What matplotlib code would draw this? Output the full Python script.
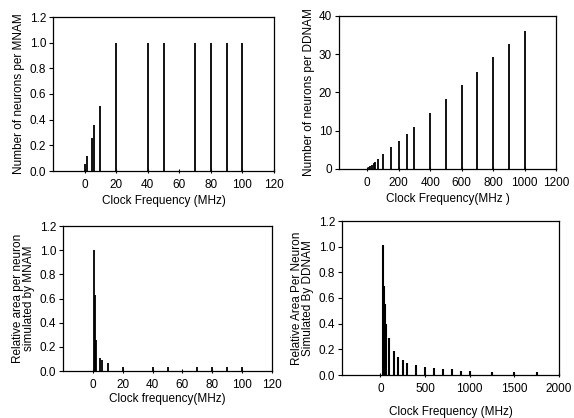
import matplotlib
matplotlib.use("Agg")
import matplotlib.pyplot as plt

plt.rcParams['font.family'] = ['Liberation Sans', 'DejaVu Sans']

# Top-left: neurons per MNAM
tl_freq = [0.5, 1.5, 4.5, 6.2, 10, 20, 40, 50, 70, 80, 90, 100]
tl_vals = [0.057, 0.115, 0.26, 0.36, 0.51, 1.0, 1.0, 1.0, 1.0, 1.0, 1.0, 1.0]

# Top-right: neurons per DDNAM
tr_freq = [10, 20, 30, 40, 50, 70, 100, 150, 200, 250, 300, 400, 500, 600, 700, 800, 900, 1000]
tr_vals = [0.4, 0.75, 1.1, 1.45, 1.8, 2.5, 4.0, 5.65, 7.4, 9.1, 11.0, 14.7, 18.2, 21.9, 25.4, 29.3, 32.8, 36.1]

# Bottom-left: relative area per neuron, MNAM
bl_freq = [0.5, 1.2, 1.9, 4.8, 6.3, 10.2, 20, 40, 50, 70, 80, 90, 100]
bl_vals = [1.0, 0.63, 0.26, 0.107, 0.088, 0.066, 0.035, 0.035, 0.035, 0.035, 0.035, 0.035, 0.035]

# Bottom-right: relative area per neuron, DDNAM
br_freq = [25, 40, 52, 66, 100, 150, 200, 250, 300, 400, 500, 600, 700, 800, 900, 1000, 1250, 1500, 1750]
br_vals = [1.01, 0.69, 0.553, 0.397, 0.285, 0.188, 0.141, 0.117, 0.097, 0.076, 0.065, 0.055, 0.044, 0.044, 0.034, 0.029, 0.023, 0.023, 0.023]

fig = plt.figure(figsize=(5.74, 4.18), dpi=100)
W, H = 574, 418

def make_ax(l, r, t, b):
    return fig.add_axes([l / W, (H - b) / H, (r - l) / W, (b - t) / H])

fs = 8.5

def style(ax, xlim, xticks, ylim, yticks, yfmt, xlabel, ylabel):
    ax.set_xlim(*xlim)
    ax.set_ylim(*ylim)
    ax.set_xticks(xticks)
    ax.set_yticks(yticks)
    ax.set_yticklabels([yfmt.format(v) for v in yticks], fontsize=fs)
    ax.set_xticklabels([str(v) for v in xticks], fontsize=fs)
    ax.tick_params(axis='x', direction='inout', length=3, width=0.8, pad=4)
    ax.tick_params(axis='y', direction='out', length=3, width=0.8, pad=2)
    for s in ax.spines.values():
        s.set_linewidth(0.9)
        s.set_color('black')
    ax.set_xlabel(xlabel, fontsize=fs, labelpad=3)
    ax.set_ylabel(ylabel, fontsize=fs, labelpad=3, linespacing=0.95)

ax1 = make_ax(53, 274, 17, 171)
ax1.vlines(tl_freq, 0, tl_vals, colors='black', linewidth=1.3)
style(ax1, (-20, 120), [0, 20, 40, 60, 80, 100, 120], (0, 1.2),
      [0, 0.2, 0.4, 0.6, 0.8, 1.0, 1.2], "{:.1f}",
      "Clock Frequency (MHz)", "Number of neurons per MNAM")

ax2 = make_ax(339, 556, 16, 169)
ax2.vlines(tr_freq, 0, tr_vals, colors='black', linewidth=1.3)
style(ax2, (-180, 1200), [0, 200, 400, 600, 800, 1000, 1200], (0, 40),
      [0, 10, 20, 30, 40], "{:.0f}",
      "Clock Frequency(MHz )", "Number of neurons per DDNAM")

ax3 = make_ax(63, 272, 226, 371)
ax3.vlines(bl_freq, 0, bl_vals, colors='black', linewidth=1.3)
style(ax3, (-20, 120), [0, 20, 40, 60, 80, 100, 120], (0, 1.2),
      [0, 0.2, 0.4, 0.6, 0.8, 1.0, 1.2], "{:.1f}",
      "Clock frequency(MHz)", "Relative area per neuron\nsimulated by MNAM")
ax3.xaxis.labelpad = 2

ax4 = make_ax(342, 559, 221, 375)
ax4.vlines(br_freq, 0, br_vals, colors='black', linewidth=1.5)
style(ax4, (-430, 2000), [0, 500, 1000, 1500, 2000], (0, 1.2),
      [0, 0.2, 0.4, 0.6, 0.8, 1.0, 1.2], "{:.1f}",
      "Clock Frequency (MHz)", "Relative Area Per Neuron\nSimulated By DDNAM")
ax4.xaxis.labelpad = 8

fig.savefig("out.png", dpi=100)
